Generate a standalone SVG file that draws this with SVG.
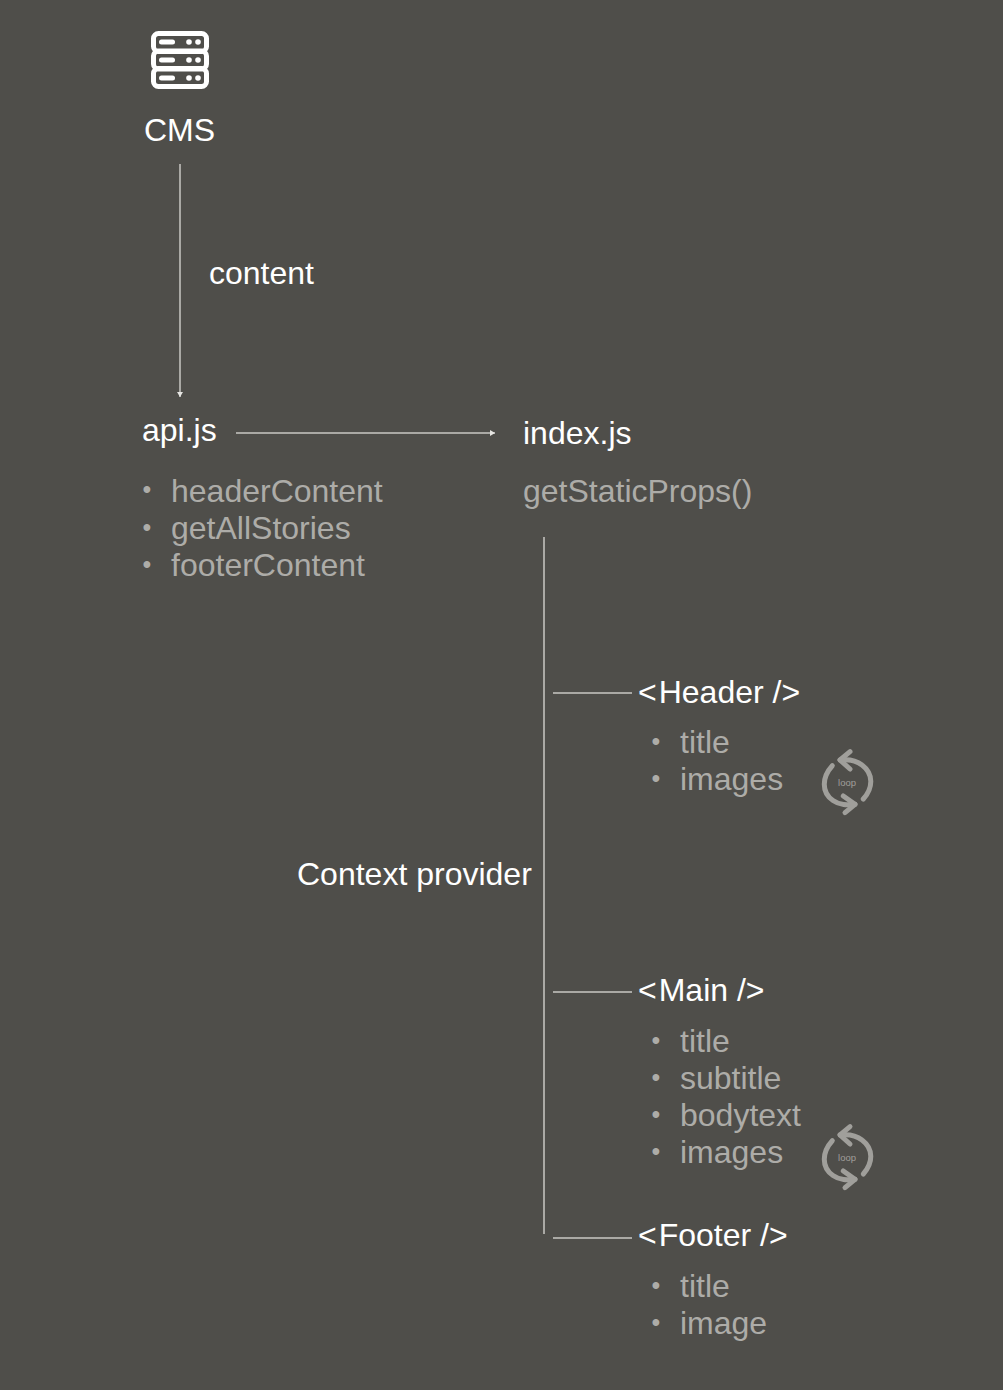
<svg xmlns="http://www.w3.org/2000/svg" width="1003" height="1390" viewBox="0 0 1003 1390">
<defs>
<style>
text{font-family:"Liberation Sans",Arial,sans-serif;font-size:32px}
.w{fill:#fff}
.g{fill:#adaca8}
.b{fill:#adaca8;font-size:25px}
.c{stroke:#aaa9a5;stroke-width:2;fill:none}
.ic{stroke:#a09f9b;stroke-width:5;fill:none;stroke-linecap:round;stroke-linejoin:round}
.lp{font-size:9.500px;fill:#a09f9b;text-anchor:middle}
</style>
<marker id="ah" markerUnits="userSpaceOnUse" markerWidth="6" markerHeight="6" refX="5" refY="3" orient="auto"><path d="M0 0L5 3L0 6z" fill="#e6e5e2"/></marker>
<g id="loop">
<path class="ic" d="M-14.700 -16.300C-25 -5 -26 10 -14 18.500C-7 23.500 0 23 8 22.300"/>
<path class="ic" d="M-3.700 14L8 22.300L-2 30.700"/>
<path class="ic" d="M16.300 17C26 6 27 -8 15 -17C8 -22.500 1 -23 -7 -22"/>
<path class="ic" d="M3 -30.300L-7 -22L3 -13"/>
<text class="lp" y="4">loop</text>
</g>
</defs>
<rect width="1003" height="1390" fill="#4f4e4a"/>
<g id="connectors">
<path class="c" d="M180 164V397" stroke-width="1.500" marker-end="url(#ah)"/>
<path class="c" d="M236 433H495" marker-end="url(#ah)"/>
<path class="c" d="M544 537V1234"/>
<path class="c" d="M553 693H632"/>
<path class="c" d="M553 992H632"/>
<path class="c" d="M553 1238H632"/>
</g>
<g id="cms">
<g fill="none" stroke="#fff" stroke-width="5">
<rect x="153.500" y="33.500" width="53" height="18" rx="5"/>
<rect x="153.500" y="51" width="53" height="18" rx="5"/>
<rect x="153.500" y="68.500" width="53" height="18" rx="5"/>
</g>
<g fill="#fff">
<rect x="159" y="39.500" width="16" height="5" rx="2.500"/>
<rect x="159" y="57.500" width="16" height="5" rx="2.500"/>
<rect x="159" y="75.500" width="16" height="5" rx="2.500"/>
<circle cx="189" cy="42" r="2.800"/><circle cx="198" cy="42" r="2.800"/>
<circle cx="189" cy="60" r="2.800"/><circle cx="198" cy="60" r="2.800"/>
<circle cx="189" cy="78" r="2.800"/><circle cx="198" cy="78" r="2.800"/>
</g>
<text class="w" x="144" y="141">CMS</text>
</g>
<g id="content-label"><text class="w" x="209" y="284">content</text></g>
<g id="api">
<text class="w" x="142" y="441">api.js</text>
<text class="b" x="142.600" y="498">•</text><text class="g" x="171" y="501.500">headerContent</text>
<text class="b" x="142.600" y="536">•</text><text class="g" x="171" y="539">getAllStories</text>
<text class="b" x="142.600" y="573">•</text><text class="g" x="171" y="576">footerContent</text>
</g>
<g id="index">
<text class="w" x="523" y="444">index.js</text>
<text class="g" x="523" y="502">getStaticProps()</text>
</g>
<g id="context-provider"><text class="w" x="297" y="885">Context provider</text></g>
<g id="header">
<text class="w" x="638" y="702.500">&lt;<tspan dx="2">Header /&gt;</tspan></text>
<text class="b" x="651.600" y="750">•</text><text class="g" x="680" y="753">title</text>
<text class="b" x="651.600" y="787">•</text><text class="g" x="680" y="790">images</text>
<use href="#loop" x="847" y="782"/>
</g>
<g id="main">
<text class="w" x="638" y="1001">&lt;<tspan dx="2">Main /&gt;</tspan></text>
<text class="b" x="651.600" y="1049">•</text><text class="g" x="680" y="1052">title</text>
<text class="b" x="651.600" y="1086">•</text><text class="g" x="680" y="1089">subtitle</text>
<text class="b" x="651.600" y="1123">•</text><text class="g" x="680" y="1126">bodytext</text>
<text class="b" x="651.600" y="1160">•</text><text class="g" x="680" y="1163">images</text>
<use href="#loop" x="847" y="1157"/>
</g>
<g id="footer">
<text class="w" x="638" y="1246">&lt;<tspan dx="2">Footer /&gt;</tspan></text>
<text class="b" x="651.600" y="1294">•</text><text class="g" x="680" y="1297">title</text>
<text class="b" x="651.600" y="1331">•</text><text class="g" x="680" y="1334">image</text>
</g>
</svg>
